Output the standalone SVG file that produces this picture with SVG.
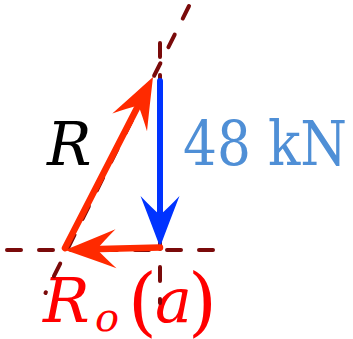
<svg xmlns="http://www.w3.org/2000/svg" width="353" height="339" viewBox="0 0 353 339">
<style>
.dash{stroke:#7a0a0a;stroke-width:4;stroke-linecap:round;stroke-dasharray:14 18;fill:none}
.shaft{stroke-linecap:round;fill:none}
.red{stroke:#ff2a00}
.redf{fill:#ff2a00}
.blue{stroke:#0033ff}
.bluef{fill:#0033ff}
.lbl{font-family:"DejaVu Serif",serif}
.it{font-style:italic}
</style>
<defs>
<path id="head" d="M0,0 Q-24,-9 -51,-19.5 Q-39,-8 -32,0 Q-39,8 -51,19.5 Q-24,9 0,0 Z"/>
</defs>
<g id="label-R"><text class="lbl it" x="47" y="165" font-size="59" fill="#000">R</text></g>
<g id="label-48kN"><text class="lbl" x="183" y="165" font-size="62" fill="#4f8fd6" textLength="164" lengthAdjust="spacingAndGlyphs">48 kN</text></g>
<g id="label-Roa"><text class="lbl" y="322" fill="#ff0000"><tspan class="it" x="43" font-size="62">R</tspan><tspan class="it" x="95" y="331" font-size="40">o</tspan><tspan x="128" y="327" font-size="74">(</tspan><tspan class="it" x="155" y="322" font-size="62">a</tspan><tspan x="188" y="327" font-size="74">)</tspan></text></g>
<g id="connectors">
<line class="dash" x1="7" y1="250" x2="213" y2="250"/>
<line class="dash" x1="160" y1="43" x2="160" y2="303"/>
<line class="dash" x1="189" y1="6" x2="45.5" y2="293"/>
</g>
<g id="arrow-R">
<line class="shaft red" stroke-width="6.5" x1="65" y1="248" x2="137" y2="108"/>
<use href="#head" class="redf" transform="translate(153,77) rotate(-62.76)"/>
</g>
<g id="arrow-48kN">
<line class="shaft blue" stroke-width="6" x1="160" y1="81" x2="160" y2="215"/>
<use href="#head" class="bluef" transform="translate(160,247) rotate(90)"/>
</g>
<g id="arrow-Ro">
<line class="shaft red" stroke-width="6.5" x1="160" y1="247.5" x2="100" y2="249"/>
<use href="#head" class="redf" transform="translate(65,250) rotate(178.5)"/>
</g>
</svg>
